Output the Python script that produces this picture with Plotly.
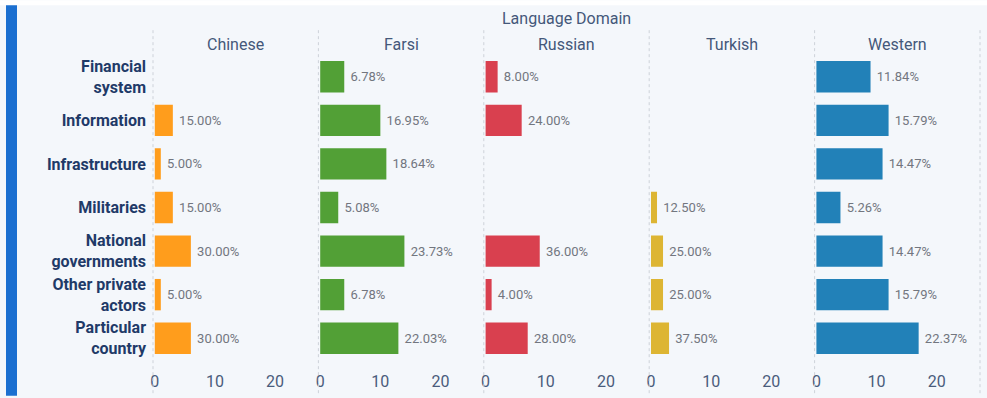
import plotly.graph_objects as go
from plotly.subplots import make_subplots

# Counts of items per target category, split by language domain
categories = ["Financial system", "Information", "Infrastructure", "Militaries",
              "National governments", "Other private actors", "Particular country"]
category_labels = ["Financial<br>system", "Information", "Infrastructure", "Militaries",
                   "National<br>governments", "Other private<br>actors", "Particular<br>country"]
domains = ["Chinese", "Farsi", "Russian", "Turkish", "Western"]

chinese = [None, 3, 1, 3, 6, 1, 6]
farsi = [4, 10, 11, 3, 14, 4, 13]
russian = [2, 6, None, None, 9, 1, 7]
turkish = [None, None, None, 1, 2, 2, 3]
western = [9, 12, 11, 4, 11, 12, 17]

domain_values = [chinese, farsi, russian, turkish, western]
domain_colors = ["#FF9D1C", "#52A036", "#D9404F", "#DDB533", "#2281B8"]

x_ticks = [0, 10, 20]

W, H = 987, 398
L, R, T, B = 153, 7, 55, 36
plot_w = W - L - R
plot_h = H - T - B

def px_x(px):
    return (px - L) / plot_w

def px_y(py):
    return 1 - (py - T) / plot_h

fig = make_subplots(rows=1, cols=5, shared_yaxes=True, horizontal_spacing=0)

for i, (name, vals, col) in enumerate(zip(domains, domain_values, domain_colors)):
    total = sum(v for v in vals if v is not None)
    labels = ["" if v is None else "\u00a0" + f"{100 * v / total:.2f}%" for v in vals]
    fig.add_trace(
        go.Bar(
            x=vals, y=categories, orientation="h", name=name,
            marker=dict(color=col, line=dict(width=0)),
            text=labels, textposition="outside", cliponaxis=False,
            textfont=dict(size=13, color="#72767f", family="Roboto"),
            width=0.72, showlegend=False, hoverinfo="skip",
        ),
        row=1, col=i + 1,
    )
    fig.update_xaxes(
        range=[-0.3, 27.2], tickvals=x_ticks, showgrid=False, zeroline=False,
        showline=False, ticks="", ticklabelstandoff=10,
        tickfont=dict(size=16, color="#4a5c7c", family="Roboto"),
        row=1, col=i + 1,
    )

fig.update_yaxes(
    categoryorder="array", categoryarray=categories, autorange="reversed",
    tickvals=categories, ticktext=category_labels, showgrid=False, zeroline=False,
    ticks="", ticklabelstandoff=6,
    tickfont=dict(size=16, color="#1f3a68", family="Roboto", weight="bold"),
    row=1, col=1,
)
fig.update_yaxes(showgrid=False, zeroline=False, ticks="")

shapes = []
# white strip along the top edge
shapes.append(dict(type="rect", xref="paper", yref="paper",
                   x0=px_x(0), x1=px_x(W), y0=px_y(0), y1=px_y(5),
                   fillcolor="#ffffff", line=dict(width=0), layer="below"))
# blue accent bar on the left
shapes.append(dict(type="rect", xref="paper", yref="paper",
                   x0=px_x(6), x1=px_x(17), y0=px_y(5), y1=px_y(H),
                   fillcolor="#1B6FD0", line=dict(width=0)))
# dotted panel separators
for k in range(6):
    xp = k / 5
    shapes.append(dict(type="line", xref="paper", yref="paper",
                       x0=xp, x1=xp, y0=px_y(30), y1=px_y(396),
                       line=dict(color="#cdd2d9", width=1, dash="dot")))

annotations = []
for i, name in enumerate(domains):
    annotations.append(dict(text=name, xref="paper", yref="paper",
                            x=(i + 0.5) / 5, y=px_y(44), xanchor="center", yanchor="middle",
                            showarrow=False,
                            font=dict(size=16, color="#44587a", family="Roboto")))
annotations.append(dict(text="Language Domain", xref="paper", yref="paper",
                        x=0.5, y=px_y(18), xanchor="center", yanchor="middle",
                        showarrow=False,
                        font=dict(size=16, color="#44587a", family="Roboto")))

fig.update_layout(
    width=W, height=H,
    margin=dict(l=L, r=R, t=T, b=B),
    paper_bgcolor="#f4f7fb", plot_bgcolor="#f4f7fb",
    bargap=0.28, shapes=shapes, annotations=annotations,
    font=dict(family="Roboto"),
)

fig.write_html("out.html")
